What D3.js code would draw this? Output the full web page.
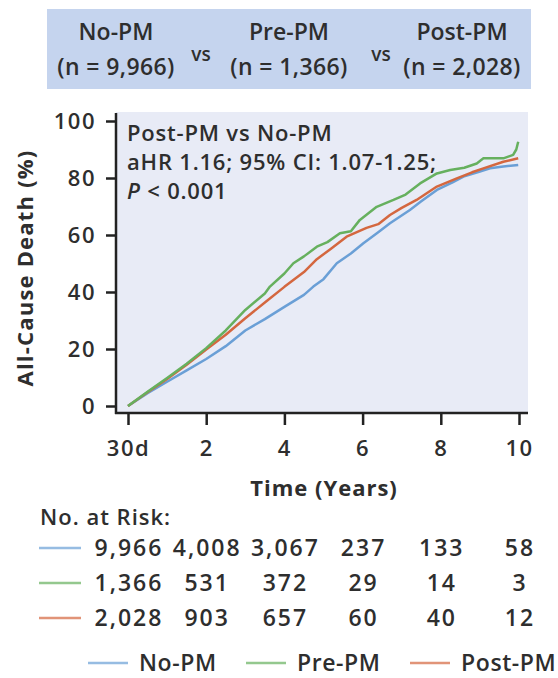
<!DOCTYPE html>
<html>
<head>
<meta charset="utf-8">
<script src="https://cdn.jsdelivr.net/npm/d3@7"></script>
<style>
  body { margin: 0; background: #fff; }
  text { font-family: "Open Sans", sans-serif; fill: #2e2e2e; }
</style>
</head>
<body>
<div id="chart"></div>
<script>
// groups shown in the header / legend
const groups = ["No-PM", "Pre-PM", "Post-PM"];
const groupN = ["9,966", "1,366", "2,028"];
const colors = ["#6a9fd6", "#66b05e", "#d4673f"];

// cumulative all-cause death (%), [years, %]
const noPM = [[0,0],[0.5,4.5],[1,8.5],[1.5,12.5],[2,16.5],[2.5,21],[3,26.5],[3.5,30.5],[4,34.8],
  [4.5,39],[4.74,41.9],[5,44.5],[5.34,50.1],[5.7,53.5],[6.02,57.1],[6.4,61],[6.7,64.1],[7.21,68.8],
  [7.5,71.8],[7.9,75.8],[8.3,78.5],[8.58,80.5],[9,82.3],[9.26,83.4],[9.6,84],[9.98,84.6]];
const prePM = [[0,0],[0.5,5],[1,9.8],[1.5,14.8],[2,20.3],[2.5,26.5],[3,33.7],[3.5,39.5],[3.63,41.9],
  [4,46.5],[4.23,50.1],[4.5,52.5],[4.83,55.9],[5.1,57.5],[5.42,60.6],[5.7,61.3],[5.93,65.3],[6.36,69.9],
  [6.79,72.3],[7.1,74.2],[7.47,78.1],[7.9,81.6],[8.24,82.8],[8.6,83.6],[8.92,85.1],[9.09,86.9],
  [9.6,86.9],[9.85,88.1],[9.93,90],[9.98,92.7]];
const postPM = [[0,0],[0.5,4.8],[1,9.5],[1.5,14.5],[2,19.8],[2.5,25],[3,30.8],[3.5,36.3],[4,41.8],
  [4.5,47],[4.83,51.5],[5.2,55.3],[5.59,59.4],[6.1,62.5],[6.4,63.8],[6.7,67],[7,69.5],[7.38,72.3],
  [7.9,77],[8.41,79.9],[8.8,82],[9.09,83.4],[9.6,85.7],[9.98,86.9]];
const series = [noPM, prePM, postPM];

const xTicks = [0, 2, 4, 6, 8, 10];
const yTicks = [0, 20, 40, 60, 80, 100];

// numbers at risk per tick
const atRisk = [
  ["9,966", "4,008", "3,067", "237", "133", "58"],
  ["1,366", "531", "372", "29", "14", "3"],
  ["2,028", "903", "657", "60", "40", "12"]
];

const W = 558, H = 678;
const svg = d3.select("#chart").append("svg")
  .attr("width", W).attr("height", H);

// header box
svg.append("rect")
  .attr("x", 47).attr("y", 9).attr("width", 484).attr("height", 80)
  .attr("fill", "#c5d4ee");

const headX = [116, 289, 462];
groups.forEach((g, i) => {
  svg.append("text")
    .attr("x", headX[i]).attr("y", 40)
    .attr("text-anchor", "middle")
    .style("font-size", "23px").style("font-weight", 600)
    .text(g);
  svg.append("text")
    .attr("x", headX[i]).attr("y", 75)
    .attr("text-anchor", "middle")
    .style("font-size", "23px").style("font-weight", 600)
    .style("letter-spacing", "0.4px")
    .text(`(n = ${groupN[i]})`);
});
[201, 381].forEach(vx => {
  svg.append("text")
    .attr("x", vx).attr("y", 61)
    .attr("text-anchor", "middle")
    .style("font-size", "19px").style("font-weight", 600)
    .text("vs");
});

// plot
const x = d3.scaleLinear().domain([0, 10]).range([128, 519]);
const y = d3.scaleLinear().domain([0, 100]).range([406, 121]);

const pLeft = 116, pRight = 528, pTop = 112, pBottom = 413;

svg.append("rect")
  .attr("x", pLeft).attr("y", pTop)
  .attr("width", pRight - pLeft).attr("height", pBottom - pTop)
  .attr("fill", "#e8ebf6");

const yAxis = svg.append("g")
  .attr("transform", `translate(${pLeft},0)`)
  .call(d3.axisLeft(y).tickValues(yTicks).tickSize(10).tickPadding(10).tickSizeOuter(0));
const xAxis = svg.append("g")
  .attr("transform", `translate(0,${pBottom})`)
  .call(d3.axisBottom(x).tickValues(xTicks).tickSize(12).tickPadding(15).tickSizeOuter(0)
    .tickFormat(d => d === 0 ? "30d" : d));

[yAxis, xAxis].forEach(a => {
  a.select(".domain").remove();
  a.selectAll(".tick line").attr("stroke", "#222").attr("stroke-width", 2.5);
  a.selectAll(".tick text")
    .style("font-family", '"Open Sans", sans-serif')
    .style("font-size", "22px").style("font-weight", 600)
    .style("letter-spacing", "1.5px")
    .attr("fill", "#2e2e2e");
});
yAxis.selectAll(".tick text").attr("dy", "0.36em");

svg.append("line")
  .attr("x1", pLeft).attr("x2", pLeft).attr("y1", pTop + 1).attr("y2", pBottom + 1)
  .attr("stroke", "#222").attr("stroke-width", 2.5);
svg.append("line")
  .attr("x1", pLeft - 1).attr("x2", pRight).attr("y1", pBottom).attr("y2", pBottom)
  .attr("stroke", "#222").attr("stroke-width", 2.5);

const line = d3.line()
  .x(d => x(d[0]))
  .y(d => y(d[1]));

[0, 2, 1].forEach(i => {
  svg.append("path")
    .datum(series[i])
    .attr("d", line)
    .attr("fill", "none")
    .attr("stroke", colors[i])
    .attr("stroke-width", 2.5)
    .attr("stroke-linejoin", "round");
});

// annotation
const note = svg.append("text")
  .attr("x", 127).attr("y", 141)
  .style("font-size", "22px").style("font-weight", 600)
  .style("letter-spacing", "0.8px");
note.append("tspan").attr("x", 127).text("Post-PM vs No-PM");
note.append("tspan").attr("x", 127).attr("dy", 29).text("aHR 1.16; 95% CI: 1.07-1.25;");
const l3 = note.append("tspan").attr("x", 127).attr("dy", 29);
l3.append("tspan").style("font-style", "italic").text("P");
l3.append("tspan").text(" < 0.001");

// axis titles
svg.append("text")
  .attr("transform", "translate(33,268) rotate(-90)")
  .attr("text-anchor", "middle")
  .style("font-size", "22px").style("font-weight", 700)
  .style("letter-spacing", "1.2px")
  .text("All-Cause Death (%)");

svg.append("text")
  .attr("x", 324).attr("y", 496)
  .attr("text-anchor", "middle")
  .style("font-size", "22px").style("font-weight", 700)
  .style("letter-spacing", "1px")
  .text("Time (Years)");

// numbers at risk
svg.append("text")
  .attr("x", 40).attr("y", 525)
  .style("font-size", "22px").style("font-weight", 600)
  .style("letter-spacing", "1px")
  .text("No. at Risk:");

const rowY = [548, 583, 618];
atRisk.forEach((row, r) => {
  svg.append("line")
    .attr("x1", 39).attr("x2", 81)
    .attr("y1", rowY[r]).attr("y2", rowY[r])
    .attr("stroke", colors[r]).attr("stroke-width", 2.5)
    .attr("stroke-opacity", 0.7);
  row.forEach((v, c) => {
    svg.append("text")
      .attr("x", x(xTicks[c]) + 1).attr("y", rowY[r] + 8)
      .attr("text-anchor", "middle")
      .style("font-size", "23px").style("font-weight", 600)
      .style("letter-spacing", "2px")
      .text(v);
  });
});

// legend
const legX = [88, 246, 410];
groups.forEach((g, i) => {
  svg.append("line")
    .attr("x1", legX[i]).attr("x2", legX[i] + 40)
    .attr("y1", 663).attr("y2", 663)
    .attr("stroke", colors[i]).attr("stroke-width", 2.5)
    .attr("stroke-opacity", 0.7);
  svg.append("text")
    .attr("x", legX[i] + 51).attr("y", 671)
    .style("font-size", "23px").style("font-weight", 600)
    .style("letter-spacing", "0.6px")
    .text(g);
});
</script>
</body>
</html>
